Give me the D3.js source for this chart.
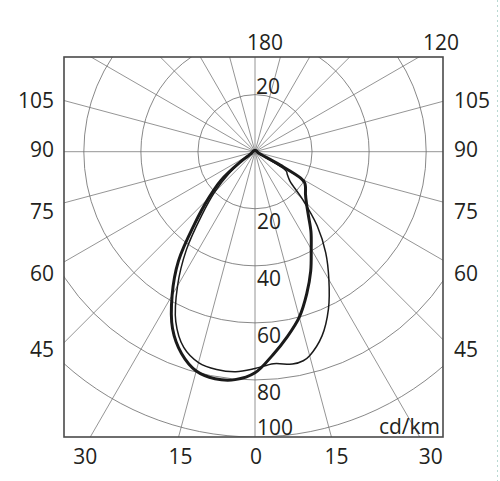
<!DOCTYPE html>
<html>
<head>
<meta charset="utf-8">
<script src="https://cdn.jsdelivr.net/npm/d3@7"></script>
<style>
  html, body { margin: 0; padding: 0; background: #fff; }
  svg { display: block; }
  text { font-family: 'Open Sans', 'Noto Sans', sans-serif; fill: #231f20; }
</style>
</head>
<body>
<svg id="chart" width="500" height="481"></svg>
<script>
// ---------------- data ----------------
const ringValues = [20, 40, 60, 80, 100];
const sideTicks = [105, 90, 75, 60, 45];
const bottomTicks = [-30, -15, 0, 15, 30];
const topTicks = [180, 120];
const unitLabel = "cd/km";

// Curve A (thick): angle (deg from nadir, negative = left) and intensity
const anglesA = [-180,-150,-120,-90,-70,-62,-58,-55,-50,-45,-40,-35,-30,-25,-20,-15,-10,-5,0,5,10,15,20,25,30,35,40,45,50,55,58,60,62,65,70,90,120,150];
const valuesA = [0.4,0.5,0.6,0.8,1.2,1.8,3,6.5,15.5,23,32.8,46.8,58.1,68.4,75.3,79.6,80.8,80.2,77.5,71.5,65.7,60,53,46.2,39.4,34.2,29.1,25.5,23.1,21.6,20.5,18.5,10,2.5,1.2,0.8,0.6,0.5];

// Curve B (thin)
const anglesB = [-180,-150,-120,-90,-70,-62,-58,-55,-50,-45,-40,-35,-30,-25,-20,-15,-10,-5,0,5,10,13,15,20,25,30,35,40,45,50,55,58,60,63,68,90,120,150];
const valuesB = [0.4,0.5,0.6,0.8,1.2,2,3.5,5.5,12,20,29,41.9,54.3,65.7,73,76.5,77.5,77.4,76,74.6,75.6,75.2,74,68.7,60.9,51.8,43.2,33.9,23.5,16,13.8,13,10,3,1.2,0.8,0.6,0.5];

// ---------------- layout ----------------
const W = 500, H = 481;
const box = {x0: 64, x1: 443, y0: 57, y1: 437};
const cx = 255, cy = 151.7;
const nudge = {
  side: {105: 0, 90: -2, 75: 9, 60: 11, 45: 7},
  bottom: {"-30": -5, "-15": 2, "0": 1, "15": 5, "30": 11},
  top: {180: 10, 120: 22}
};

const svg = d3.select("#chart");
const rScale = d3.scaleLinear().domain([0, 100]).range([0, 285.3]);
const toRad = d => d * Math.PI / 180;

svg.append("defs").append("clipPath").attr("id", "clip")
  .append("rect").attr("x", box.x0).attr("y", box.y0)
  .attr("width", box.x1 - box.x0).attr("height", box.y1 - box.y0);

const grid = svg.append("g").attr("clip-path", "url(#clip)");

// spokes every 15 deg
const spokeAngles = d3.range(0, 360, 15);
grid.selectAll("line.spoke").data(spokeAngles).join("line")
  .attr("class", "spoke")
  .attr("x1", cx).attr("y1", cy)
  .attr("x2", d => cx + 500 * Math.sin(toRad(d)))
  .attr("y2", d => cy + 500 * Math.cos(toRad(d)))
  .attr("stroke", "#7a7a7a").attr("stroke-width", 0.8);

grid.selectAll("circle.ring").data(ringValues).join("circle")
  .attr("class", "ring")
  .attr("cx", cx).attr("cy", cy).attr("r", d => rScale(d))
  .attr("fill", "none").attr("stroke", "#6a6a6a").attr("stroke-width", 0.8);

// curves
function curvePoints(angles, values) {
  return angles.map((a, i) => [Math.PI - toRad(a), rScale(values[i])]);
}
const radial = d3.lineRadial()
  .angle(d => d[0]).radius(d => d[1])
  .curve(d3.curveCatmullRomClosed.alpha(0.5));

const curves = svg.append("g").attr("transform", `translate(${cx},${cy})`).attr("clip-path", null);
curves.append("path").attr("d", radial(curvePoints(anglesB, valuesB)))
  .attr("fill", "none").attr("stroke", "#1a1a1a").attr("stroke-width", 1.5);
curves.append("path").attr("d", radial(curvePoints(anglesA, valuesA)))
  .attr("fill", "none").attr("stroke", "#1a1a1a").attr("stroke-width", 3)
  .attr("stroke-linejoin", "round");

// box
svg.append("rect").attr("x", box.x0).attr("y", box.y0)
  .attr("width", box.x1 - box.x0).attr("height", box.y1 - box.y0)
  .attr("fill", "none").attr("stroke", "#4a4a4a").attr("stroke-width", 1.6);

const fs = 21;
// ring labels
const ringG = svg.append("g").attr("font-size", fs);
ringG.selectAll("text.rl").data(ringValues).join("text")
  .attr("class", "rl")
  .attr("x", cx + 2)
  .attr("y", d => d === 100 ? cy + rScale(d) - 2 : cy + rScale(d) + 20)
  .text(d => d);
ringG.append("text").attr("x", cx + 1).attr("y", cy - rScale(ringValues[0]) - 1)
  .text(ringValues[0]);

// side labels
const dxEdge = cx - box.x0;
const sideY = t => cy + dxEdge * Math.cos(toRad(t)) / Math.sin(toRad(t)) + nudge.side[t];
svg.append("g").attr("font-size", fs).selectAll("text").data(sideTicks).join("text")
  .attr("x", 54).attr("y", d => sideY(d)).attr("dy", "0.36em")
  .attr("text-anchor", "end").text(d => d);
svg.append("g").attr("font-size", fs).selectAll("text").data(sideTicks).join("text")
  .attr("x", 454).attr("y", d => sideY(d)).attr("dy", "0.36em")
  .attr("text-anchor", "start").text(d => d);

// bottom labels
const dyBottom = box.y1 - cy;
svg.append("g").attr("font-size", fs).selectAll("text").data(bottomTicks).join("text")
  .attr("x", d => cx + dyBottom * Math.tan(toRad(d)) + nudge.bottom[String(d)])
  .attr("y", 464).attr("text-anchor", "middle")
  .text(d => Math.abs(d));

// top labels
const dyTop = cy - box.y0;
svg.append("g").attr("font-size", fs).selectAll("text").data(topTicks).join("text")
  .attr("x", d => cx + dyTop * Math.tan(toRad(180 - d)) + nudge.top[d])
  .attr("y", 50).attr("text-anchor", "middle")
  .text(d => d);

// unit
svg.append("text").attr("font-size", fs).attr("x", 440).attr("y", 434)
  .attr("text-anchor", "end").text(unitLabel);

// faint dotted edge line
svg.append("line").attr("x1", 497.5).attr("x2", 497.5).attr("y1", 0).attr("y2", H)
  .attr("stroke", "#b9d9d2").attr("stroke-width", 1).attr("stroke-dasharray", "2,3");
</script>
</body>
</html>
